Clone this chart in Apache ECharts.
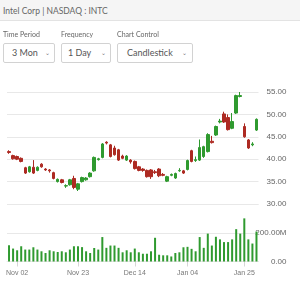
<!DOCTYPE html>
<html>
<head>
<meta charset="utf-8">
<script src="https://cdn.jsdelivr.net/npm/echarts@6/dist/echarts.min.js"></script>
<style>
  html, body { margin: 0; padding: 0; background: #fff; }
  body { width: 300px; height: 282px; position: relative; overflow: hidden; font-family: Lato, "Open Sans", sans-serif; }
  #chart { position: absolute; left: 0; top: 0; width: 300px; height: 282px; }
  .hdr { position: absolute; left: 0; top: 0; width: 300px; height: 21px; background: #f5f5f5;
    border-bottom: 1px solid #e3e3e3; font-size: 8.5px; line-height: 22px; color: #666; padding-left: 3px; box-sizing: border-box; z-index: 2; }
  .lbl { position: absolute; top: 30px; font-size: 7px; color: #666; z-index: 2; }
  .sel { position: absolute; top: 43px; height: 20px; border: 1px solid #d2d2d2; border-radius: 2px; box-sizing: border-box;
    font-size: 9px; color: #555; line-height: 18px; z-index: 2; background: #fff; }
  .sel span { position: absolute; }
  .sel i { position: absolute; font-style: normal; font-size: 6px; color: #777; top: 0; }
</style>
</head>
<body>
<div class="hdr">Intel Corp | NASDAQ : INTC</div>
<div class="lbl" style="left:3px">Time Period</div>
<div class="lbl" style="left:61px">Frequency</div>
<div class="lbl" style="left:117px">Chart Control</div>
<div class="sel" style="left:3px;width:52px"><span style="left:8px">3 Mon</span><i style="left:41px">&#8964;</i></div>
<div class="sel" style="left:61px;width:50px"><span style="left:6px">1 Day</span><i style="left:39px">&#8964;</i></div>
<div class="sel" style="left:117px;width:76px"><span style="left:9px">Candlestick</span><i style="left:64px">&#8964;</i></div>
<div id="chart"></div>
<script>
const dates = ['Oct 29', 'Oct 30',
  'Nov 02', 'Nov 03', 'Nov 04', 'Nov 05', 'Nov 06', 'Nov 09', 'Nov 10', 'Nov 11', 'Nov 12', 'Nov 13',
  'Nov 16', 'Nov 17', 'Nov 18', 'Nov 19', 'Nov 20', 'Nov 23', 'Nov 24', 'Nov 25', 'Nov 27', 'Nov 30',
  'Dec 01', 'Dec 02', 'Dec 03', 'Dec 04', 'Dec 07', 'Dec 08', 'Dec 09', 'Dec 10', 'Dec 11',
  'Dec 14', 'Dec 15', 'Dec 16', 'Dec 17', 'Dec 18', 'Dec 21', 'Dec 22', 'Dec 23', 'Dec 24',
  'Dec 28', 'Dec 29', 'Dec 30', 'Dec 31',
  'Jan 04', 'Jan 05', 'Jan 06', 'Jan 07', 'Jan 08', 'Jan 11', 'Jan 12', 'Jan 13', 'Jan 14', 'Jan 15',
  'Jan 19', 'Jan 20', 'Jan 21', 'Jan 22', 'Jan 25', 'Jan 26', 'Jan 27', 'Jan 28']

const tickDates = ['Nov 02', 'Nov 23', 'Dec 14', 'Jan 04', 'Jan 25']

// open, close, low, high
const ohlc = [
  [41.7, 41.5, 41.2, 42.0], [40.8, 40.1, 39.9, 41.0], [40.6, 40.0, 39.8, 40.8], [40.2, 39.5, 39.3, 40.4],
  [38.1, 36.9, 36.7, 38.3], [37.2, 38.3, 37.0, 38.5], [38.2, 36.9, 36.7, 39.8], [37.5, 38.2, 37.3, 38.4],
  [38.9, 38.3, 38.1, 39.1], [37.8, 37.6, 37.4, 38.0], [37.6, 37.4, 37.0, 37.8], [37.0, 35.7, 35.5, 37.2],
  [35.0, 35.5, 34.8, 35.7], [35.4, 34.8, 34.6, 35.6], [34.0, 34.1, 33.6, 34.4], [34.3, 35.4, 34.1, 35.6],
  [35.7, 33.7, 33.3, 36.3], [33.3, 34.5, 32.9, 34.7], [35.0, 35.9, 34.8, 36.1], [35.4, 35.8, 35.2, 36.0],
  [36.1, 36.9, 35.9, 37.1], [37.4, 40.4, 37.2, 40.6], [39.9, 40.1, 39.7, 40.3], [40.4, 43.4, 40.2, 43.6],
  [43.8, 43.6, 43.3, 44.0], [43.2, 40.6, 40.4, 43.4], [42.5, 41.0, 40.8, 43.0], [42.1, 39.8, 39.6, 42.3],
  [40.7, 40.2, 40.0, 41.0], [39.8, 40.7, 39.6, 40.9], [39.8, 39.4, 39.0, 40.0], [39.5, 37.9, 37.7, 39.7],
  [38.3, 37.5, 37.3, 38.5], [37.8, 37.5, 37.2, 38.0], [37.5, 36.1, 35.9, 37.7], [37.6, 36.1, 35.6, 37.8],
  [37.2, 37.0, 36.7, 37.6], [37.8, 36.3, 36.0, 38.0], [36.6, 36.4, 36.2, 36.9], [35.1, 36.1, 34.9, 36.3],
  [36.4, 36.6, 36.2, 36.8], [35.8, 36.8, 35.6, 37.0], [37.4, 37.5, 37.2, 38.0], [37.4, 36.9, 36.7, 37.6],
  [37.7, 39.7, 37.5, 39.9], [41.9, 39.5, 39.3, 42.1], [39.7, 39.9, 39.4, 40.6], [39.8, 42.6, 39.6, 44.4],
  [40.6, 42.8, 40.3, 43.0], [41.7, 45.5, 41.5, 45.8], [44.0, 43.7, 43.5, 45.2], [45.4, 47.3, 45.2, 47.5],
  [48.3, 48.5, 48.0, 49.0], [50.1, 48.3, 48.1, 50.6], [49.3, 46.6, 46.4, 50.0], [46.9, 48.4, 46.7, 50.3],
  [50.3, 54.2, 50.1, 54.4], [54.0, 54.2, 53.8, 55.0], [47.3, 45.0, 44.8, 48.0], [44.3, 42.5, 42.3, 44.5],
  [43.2, 43.4, 42.9, 43.8], [46.5, 48.9, 46.3, 49.1]
]

// millions of shares
const volume = [
  113, 90, 78, 106, 83, 83, 99, 83, 71, 59,
  78, 71, 66, 71, 64, 83, 106, 106, 100, 71,
  59, 94, 83, 170, 95, 111, 111, 95, 64, 78,
  64, 90, 64, 54, 54, 71, 165, 47, 43, 43,
  35, 59, 64, 99, 102, 88, 71, 170, 95, 194,
  111, 172, 154, 135, 135, 154, 225, 194, 300, 154,
  125, 208
]

const up = '#2f9a2f'
const down = '#ad2a22'
const gridColor = '#e8e8e8'
const showDate = (i, v) => tickDates.indexOf(v) >= 0

const chart = echarts.init(document.getElementById('chart'), null, { renderer: 'canvas' })
chart.setOption({
  animation: false,
  textStyle: { fontFamily: 'Liberation Sans, Arial, sans-serif' },
  grid: [
    { left: 7, right: 41.5, top: 92, height: 112 },
    { left: 7, right: 41.5, top: 204, height: 57.5 },
  ],
  xAxis: [
    {
      type: 'category', gridIndex: 0, data: dates,
      axisLine: { show: false }, axisTick: { show: false }, axisLabel: { show: false },
    },
    {
      type: 'category', gridIndex: 1, data: dates,
      axisLine: { show: true, lineStyle: { color: gridColor } },
      axisTick: { show: true, alignWithLabel: true, interval: showDate, length: 5, lineStyle: { color: '#d6d6d6' } },
      axisLabel: { interval: showDate, fontSize: 7, color: '#777', margin: 8 },
    },
  ],
  yAxis: [
    {
      type: 'value', gridIndex: 0, position: 'right', min: 30, max: 55, interval: 5,
      splitLine: { lineStyle: { color: gridColor } },
      axisLabel: {
        formatter: (v) => v.toFixed(2), align: 'right', margin: 28,
        fontSize: 8, color: '#666', padding: [0, 0, 7, 0],
      },
    },
    {
      type: 'value', gridIndex: 1, position: 'right', min: 0, max: 400, interval: 200,
      splitLine: { lineStyle: { color: gridColor } },
      axisLabel: {
        formatter: (v) => (v === 0 ? '0.00' : v.toFixed(2) + 'M'), align: 'right', margin: 28,
        fontSize: 8, color: '#666', padding: [0, 0, 7, 0], showMaxLabel: false,
      },
    },
  ],
  series: [
    {
      type: 'candlestick', xAxisIndex: 0, yAxisIndex: 0, data: ohlc, barWidth: 3,
      itemStyle: { color: up, color0: down, borderColor: up, borderColor0: down, borderWidth: 1 },
    },
    {
      type: 'bar', xAxisIndex: 1, yAxisIndex: 1, data: volume, barWidth: 2,
      itemStyle: { color: up },
    },
  ],
})
</script>
</body>
</html>
